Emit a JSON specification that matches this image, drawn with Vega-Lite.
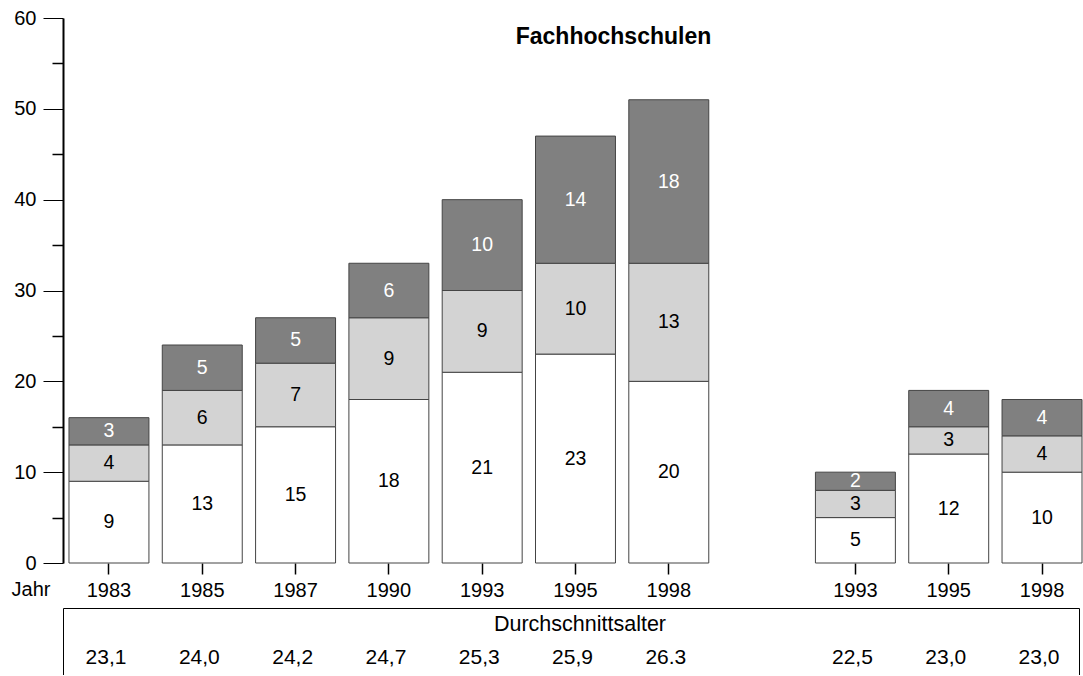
{
  "$schema": "https://vega.github.io/schema/vega-lite/v6.json",
  "background": "white",
  "padding": {"left": 11, "top": 8, "right": 0, "bottom": 0},
  "config": {
    "font": "Liberation Sans",
    "view": {"stroke": null},
    "axis": {"labelFont": "Liberation Sans", "titleFont": "Liberation Sans", "labelColor": "black", "titleColor": "black", "grid": false},
    "title": {"font": "Liberation Sans", "color": "black"}
  },
  "datasets": {
    "balken": [
      {"key": "A1983", "stufe": 1, "wert": 9}, {"key": "A1983", "stufe": 2, "wert": 4}, {"key": "A1983", "stufe": 3, "wert": 3},
      {"key": "A1985", "stufe": 1, "wert": 13}, {"key": "A1985", "stufe": 2, "wert": 6}, {"key": "A1985", "stufe": 3, "wert": 5},
      {"key": "A1987", "stufe": 1, "wert": 15}, {"key": "A1987", "stufe": 2, "wert": 7}, {"key": "A1987", "stufe": 3, "wert": 5},
      {"key": "A1990", "stufe": 1, "wert": 18}, {"key": "A1990", "stufe": 2, "wert": 9}, {"key": "A1990", "stufe": 3, "wert": 6},
      {"key": "A1993", "stufe": 1, "wert": 21}, {"key": "A1993", "stufe": 2, "wert": 9}, {"key": "A1993", "stufe": 3, "wert": 10},
      {"key": "A1995", "stufe": 1, "wert": 23}, {"key": "A1995", "stufe": 2, "wert": 10}, {"key": "A1995", "stufe": 3, "wert": 14},
      {"key": "A1998", "stufe": 1, "wert": 20}, {"key": "A1998", "stufe": 2, "wert": 13}, {"key": "A1998", "stufe": 3, "wert": 18},
      {"key": "B1993", "stufe": 1, "wert": 5}, {"key": "B1993", "stufe": 2, "wert": 3}, {"key": "B1993", "stufe": 3, "wert": 2},
      {"key": "B1995", "stufe": 1, "wert": 12}, {"key": "B1995", "stufe": 2, "wert": 3}, {"key": "B1995", "stufe": 3, "wert": 4},
      {"key": "B1998", "stufe": 1, "wert": 10}, {"key": "B1998", "stufe": 2, "wert": 4}, {"key": "B1998", "stufe": 3, "wert": 4}
    ],
    "alter": [
      {"key": "A1983", "alter": "23,1"}, {"key": "A1985", "alter": "24,0"}, {"key": "A1987", "alter": "24,2"},
      {"key": "A1990", "alter": "24,7"}, {"key": "A1993", "alter": "25,3"}, {"key": "A1995", "alter": "25,9"},
      {"key": "A1998", "alter": "26.3"}, {"key": "B1993", "alter": "22,5"}, {"key": "B1995", "alter": "23,0"},
      {"key": "B1998", "alter": "23,0"}
    ]
  },
  "vconcat": [
    {
      "width": 1019,
      "height": 545,
      "title": {"text": "Fachhochschulen", "fontSize": 23, "fontWeight": "bold", "anchor": "middle", "frame": "group", "offset": -41, "dx": 41},
      "data": {"name": "balken"},
      "transform": [
        {"stack": "wert", "groupby": ["key"], "sort": [{"field": "stufe", "order": "ascending"}], "as": ["y0", "y1"]},
        {"calculate": "(datum.y0 + datum.y1) / 2", "as": "ymitte"}
      ],
      "encoding": {
        "x": {
          "field": "key", "type": "nominal",
          "scale": {"type": "band", "domain": ["A1983", "A1985", "A1987", "A1990", "A1993", "A1995", "A1998", "gap", "B1993", "B1995", "B1998"], "paddingInner": 0.143, "paddingOuter": 0.032, "align": 1},
          "axis": {
            "values": ["A1983", "A1985", "A1987", "A1990", "A1993", "A1995", "A1998", "B1993", "B1995", "B1998"],
            "labelExpr": "substring(datum.value, 1)", "labelAngle": 0, "domain": false,
            "tickSize": 11, "tickWidth": 1.5, "tickColor": "black", "labelFontSize": 20, "labelPadding": 6,
            "title": "Jahr", "titleX": -13, "titleY": 32, "titleAlign": "right", "titleBaseline": "alphabetic",
            "titleFontSize": 20, "titleFontWeight": "normal"
          }
        }
      },
      "layer": [
        {
          "mark": {"type": "bar", "stroke": "#444", "strokeWidth": 1},
          "encoding": {
            "y": {
              "field": "y1", "type": "quantitative",
              "scale": {"domain": [0, 60], "nice": false, "zero": true},
              "axis": {"orient": "left", "values": [0, 10, 20, 30, 40, 50, 60], "tickSize": 20, "tickWidth": 1, "tickColor": "black", "domainColor": "black", "domainWidth": 2, "labelFontSize": 20, "labelPadding": 7, "title": null}
            },
            "y2": {"field": "y0"},
            "color": {"field": "stufe", "type": "nominal", "scale": {"domain": [1, 2, 3], "range": ["#ffffff", "#d3d3d3", "#808080"]}, "legend": null}
          }
        },
        {
          "mark": {"type": "text", "fontSize": 19.5},
          "encoding": {
            "y": {
              "field": "ymitte", "type": "quantitative",
              "axis": {"orient": "left", "values": [5, 15, 25, 35, 45, 55], "tickSize": 11, "tickWidth": 1.5, "tickColor": "black", "labels": false, "domain": false, "title": null}
            },
            "text": {"field": "wert", "type": "quantitative"},
            "color": {"condition": {"test": "datum.stufe === 3", "value": "white"}, "value": "black"}
          }
        }
      ],
      "resolve": {"axis": {"y": "independent"}}
    },
    {
      "width": 1016,
      "height": 67,
      "layer": [
        {
          "data": {"name": "alter"},
          "mark": {"type": "text", "fontSize": 21, "color": "black"},
          "encoding": {
            "x": {
              "field": "key", "type": "nominal",
              "scale": {"type": "band", "domain": ["A1983", "A1985", "A1987", "A1990", "A1993", "A1995", "A1998", "gap", "B1993", "B1995", "B1998"], "paddingInner": 0.143, "paddingOuter": 0.0165, "align": 1},
              "axis": {"orient": "top", "labels": false, "ticks": false, "domain": true, "domainColor": "black", "domainWidth": 1, "title": null}
            },
            "y": {
              "datum": "Werte", "type": "nominal",
              "scale": {"type": "band", "domain": ["Kopf", "Werte"], "paddingInner": 0, "paddingOuter": 0},
              "axis": {"orient": "left", "labels": false, "ticks": false, "domain": true, "domainColor": "black", "domainWidth": 1, "title": null}
            },
            "text": {"field": "alter", "type": "nominal"}
          }
        },
        {
          "data": {"values": [{"text": "Durchschnittsalter"}]},
          "mark": {"type": "text", "fontSize": 21.5, "color": "black", "dx": 9},
          "encoding": {
            "y": {
              "datum": "Kopf", "type": "nominal",
              "axis": {"orient": "right", "labels": false, "ticks": false, "domain": true, "domainColor": "black", "domainWidth": 1, "title": null}
            },
            "text": {"field": "text", "type": "nominal"}
          }
        }
      ],
      "resolve": {"axis": {"y": "independent"}}
    }
  ],
  "spacing": 45,
  "bounds": "flush"
}
